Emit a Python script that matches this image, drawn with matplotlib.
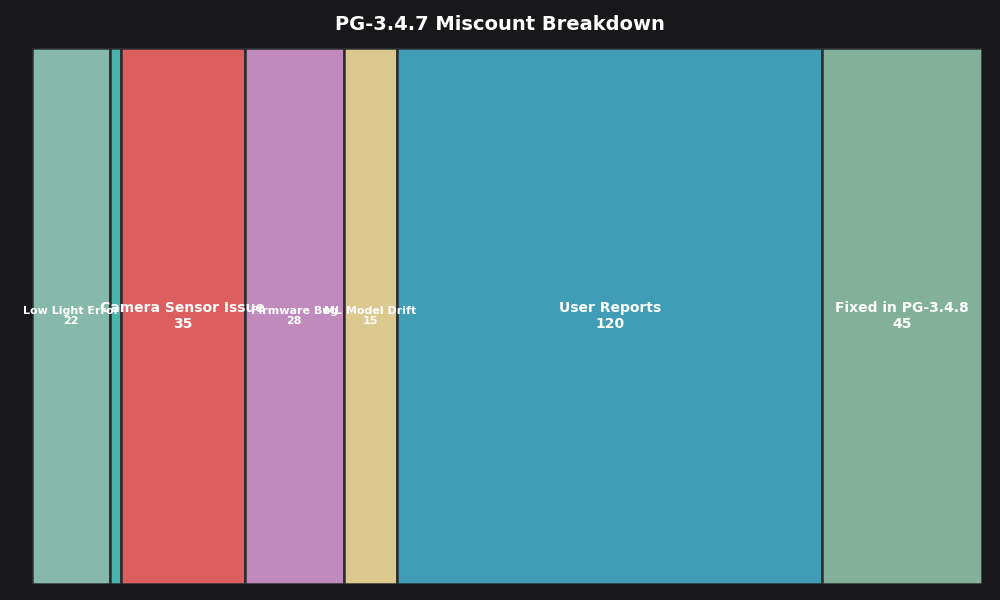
import matplotlib
matplotlib.use("Agg")
import matplotlib.pyplot as plt
import numpy as np

categories = ["Low Light Error", "Other", "Camera Sensor Issue", "Firmware Bug",
              "ML Model Drift", "User Reports", "Fixed in PG-3.4.8"]
values = [22, 3, 35, 28, 15, 120, 45]
colors = ["#86b9aa", "#4bb3ac", "#dc5e5e", "#c08abd", "#dcc990", "#409db5", "#82b09a"]
show_label = [True, False, True, True, True, True, True]

bg = "#18181a"
fig = plt.figure(figsize=(10, 6), dpi=100, facecolor=bg)
ax = fig.add_axes([0.032, 1 - 584 / 600, 0.95, (584 - 48) / 600])
ax.set_facecolor(bg)

vals = np.array(values, dtype=float)
lefts = np.concatenate([[0], np.cumsum(vals)[:-1]])
total = vals.sum()
ax.bar(lefts, [1] * len(vals), width=vals, bottom=0, align="edge",
       color=colors, edgecolor="#2a2c30", linewidth=1.8)

for cat, v, l, show in zip(categories, values, lefts, show_label):
    if not show:
        continue
    fs = 10 if v >= 30 else 8
    ax.text(l + v / 2, 0.5, f"{cat}\n{v}", ha="center", va="center",
            color="white", fontsize=fs, fontweight="bold", linespacing=1.1)

ax.set_xlim(0, total)
ax.set_ylim(0, 1)
ax.axis("off")
fig.text(0.5, 1 - 24 / 600, "PG-3.4.7 Miscount Breakdown", color="white", fontsize=14,
         fontweight="bold", ha="center", va="center")
fig.savefig("out.png", dpi=100, facecolor=bg)
